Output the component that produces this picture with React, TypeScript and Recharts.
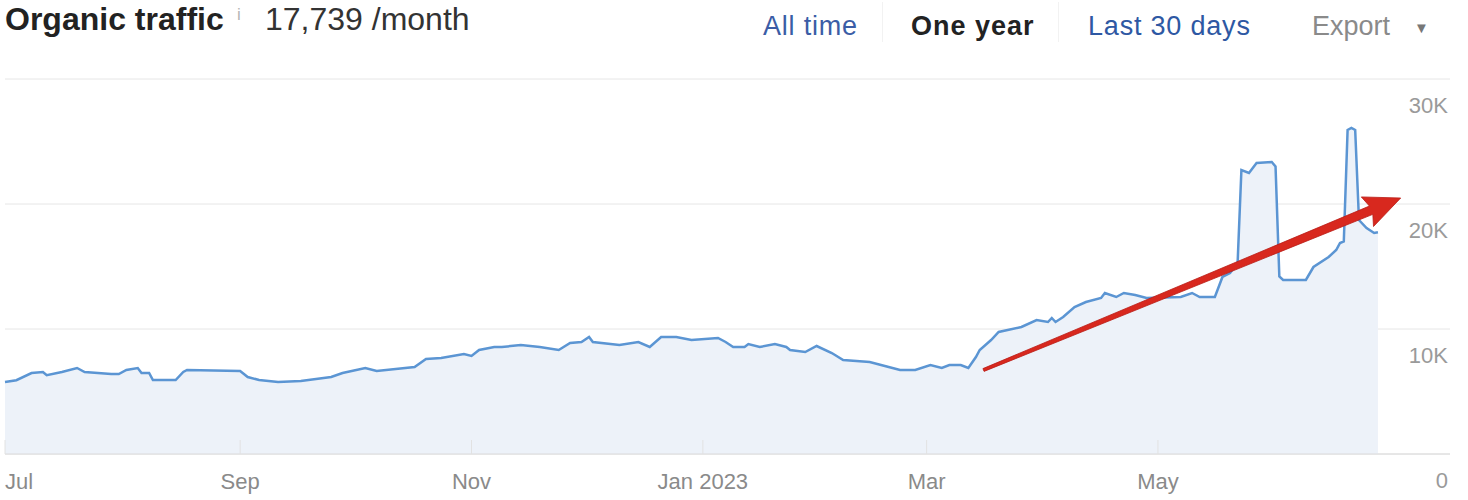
import { AreaChart, Area, XAxis, YAxis, CartesianGrid, ReferenceLine } from "recharts";

// day index counted from Jul 1 2022
const days = [
  0, 3, 7, 10, 11, 15, 19, 21, 28, 30, 32, 35, 36, 38, 39, 45, 47, 48, 62, 64, 67, 72, 78, 86, 89,
  95, 98, 108, 111, 115, 121, 123, 125, 129, 131, 136, 141, 146, 149, 152, 154, 155, 162, 167, 170,
  173, 177, 181, 188, 190, 192, 195, 196, 199, 203, 206, 207, 211, 214, 218, 221, 228, 233, 236,
  240, 244, 247, 249, 252, 254, 256, 257, 260, 262, 268, 272, 275, 276, 277, 279, 282, 285, 289,
  290, 293, 295, 298, 301, 310, 313, 315, 319, 320, 321, 323, 325, 326, 328, 330, 334, 335, 336,
  337, 343, 345, 349, 351, 352, 353, 354, 355, 356, 357, 359, 361, 362,
];

const traffic = [
  5760, 5900, 6480, 6560, 6300, 6560, 6880, 6560, 6400, 6400, 6720, 6880, 6480, 6480, 5920, 5920,
  6560, 6720, 6640, 6160, 5920, 5760, 5840, 6160, 6480, 6880, 6640, 6960, 7600, 7680, 8000, 7840,
  8320, 8560, 8560, 8720, 8560, 8320, 8880, 8960, 9360, 8960, 8720, 8960, 8560, 9360, 9360, 9120,
  9280, 8960, 8560, 8560, 8800, 8560, 8800, 8560, 8320, 8160, 8640, 8080, 7520, 7360, 6960, 6720,
  6720, 7120, 6880, 7120, 7120, 6880, 7760, 8320, 9120, 9760, 10160, 10720, 10560, 10880, 10560,
  10960, 11760, 12160, 12480, 12880, 12560, 12880, 12720, 12480, 12560, 12880, 12560, 12560, 13360,
  14160, 14480, 15280, 22720, 22480, 23280, 23360, 23000, 14200, 13920, 13920, 14960, 15760, 16320,
  16880, 17000, 25920, 26080, 25920, 18720, 18080, 17680, 17739,
];

const monthTicks = [0, 62, 123, 184, 243, 304];
const monthLabels = ["Jul", "Sep", "Nov", "Jan 2023", "Mar", "May"];
const valueTicks = [0, 10000, 20000, 30000];

// red trend arrow drawn over the chart (day, value)
const trendFrom = { x: 258, y: 6720 };
const trendTo = { x: 368, y: 20480 };

const data = days.map((d, i) => ({ day: d, value: traffic[i] }));

const FONT = "'Liberation Sans', Arial, sans-serif";

function MonthTick({ x, y, payload }: any) {
  const i = monthTicks.indexOf(payload.value);
  return (
    <g>
      <line x1={x} x2={x} y1={y - 14} y2={y} stroke="#e2e2e2" />
      <text
        x={x}
        y={y + 35}
        textAnchor={i === 0 ? "start" : "middle"}
        fill="#8a8a8a"
        fontSize={22}
        fontFamily={FONT}
      >
        {monthLabels[i]}
      </text>
    </g>
  );
}

function ValueTick({ x, y, payload }: any) {
  const v = payload.value;
  return (
    <text x={x - 2} y={y + 34} textAnchor="end" fill="#9a9a9a" fontSize={22} fontFamily={FONT}>
      {v === 0 ? "0" : v / 1000 + "K"}
    </text>
  );
}

function TrendArrow({ x1, y1, x2, y2 }: any) {
  const dx = x2 - x1;
  const dy = y2 - y1;
  const len = Math.hypot(dx, dy);
  const ux = dx / len;
  const uy = dy / len;
  const nx = -uy;
  const ny = ux;
  const headLen = 32;
  const headHalf = 16;
  const w0 = 1.5;
  const w1 = 4.5;
  const bx = x2 - ux * headLen;
  const by = y2 - uy * headLen;
  const pts = [
    [x1 + nx * w0, y1 + ny * w0],
    [bx + nx * w1, by + ny * w1],
    [bx - ux * 4 + nx * headHalf, by - uy * 4 + ny * headHalf],
    [x2, y2],
    [bx - ux * 4 - nx * headHalf, by - uy * 4 - ny * headHalf],
    [bx - nx * w1, by - ny * w1],
    [x1 - nx * w0, y1 - ny * w0],
  ];
  return (
    <polygon
      points={pts.map((p) => p.join(",")).join(" ")}
      fill="#d8281e"
      stroke="#b91c15"
      strokeWidth={0.8}
      strokeLinejoin="round"
    />
  );
}

const tab = { position: "absolute" as const, top: 13, fontSize: 27, lineHeight: "27px", fontFamily: FONT, whiteSpace: "nowrap" as const };

export default function App() {
  return (
    <div style={{ position: "relative", width: 1468, height: 500, background: "#fff", overflow: "hidden" }}>
      <style>{"body{margin:0}"}</style>

      <div style={{ position: "absolute", left: 5, top: 3, fontSize: 32, lineHeight: "32px", fontWeight: 700, color: "#222", fontFamily: FONT }}>
        Organic traffic
      </div>
      <div style={{ position: "absolute", left: 237, top: 6, fontSize: 17, lineHeight: "17px", color: "#b5b5b5", fontFamily: FONT }}>i</div>
      <div style={{ position: "absolute", left: 265, top: 3, fontSize: 32, lineHeight: "32px", color: "#333", fontFamily: FONT }}>
        17,739 /month
      </div>

      <div style={{ ...tab, left: 763, color: "#3b5da6", letterSpacing: 0.8 }}>All time</div>
      <div style={{ position: "absolute", left: 882, top: 2, width: 1, height: 40, background: "#f2f2f2" }} />
      <div style={{ ...tab, left: 911, color: "#222", fontWeight: 700, letterSpacing: 1 }}>One year</div>
      <div style={{ position: "absolute", left: 1058, top: 2, width: 1, height: 40, background: "#f2f2f2" }} />
      <div style={{ ...tab, left: 1088, color: "#2e58a3", letterSpacing: 0.8 }}>Last 30 days</div>
      <div style={{ ...tab, left: 1312, color: "#8a8a8a" }}>Export</div>
      <div style={{ position: "absolute", left: 1414, top: 19, fontSize: 15, color: "#777", fontFamily: FONT }}>▼</div>

      <div style={{ position: "absolute", left: 0, top: 0 }}>
        <AreaChart width={1468} height={500} data={data} margin={{ top: 79, right: 0, left: 5, bottom: 16 }}>
          <CartesianGrid vertical={false} stroke="#e6e6e6" />
          <XAxis
            dataKey="day"
            type="number"
            domain={[0, 381]}
            ticks={monthTicks}
            interval={0}
            height={30}
            tickSize={0}
            tickMargin={0}
            tickLine={false}
            axisLine={{ stroke: "#dadada" }}
            tick={<MonthTick />}
          />
          <YAxis
            orientation="right"
            domain={[0, 30000]}
            ticks={valueTicks}
            interval={0}
            width={18}
            tickSize={0}
            tickMargin={0}
            tickLine={false}
            axisLine={false}
            tick={<ValueTick />}
          />
          <Area
            type="linear"
            dataKey="value"
            stroke="#5b95d3"
            strokeWidth={2.5}
            fill="#edf2f9"
            fillOpacity={1}
            isAnimationActive={false}
            dot={false}
            activeDot={false}
          />
          <ReferenceLine segment={[trendFrom, trendTo]} ifOverflow="visible" shape={TrendArrow} />
        </AreaChart>
      </div>
    </div>
  );
}
